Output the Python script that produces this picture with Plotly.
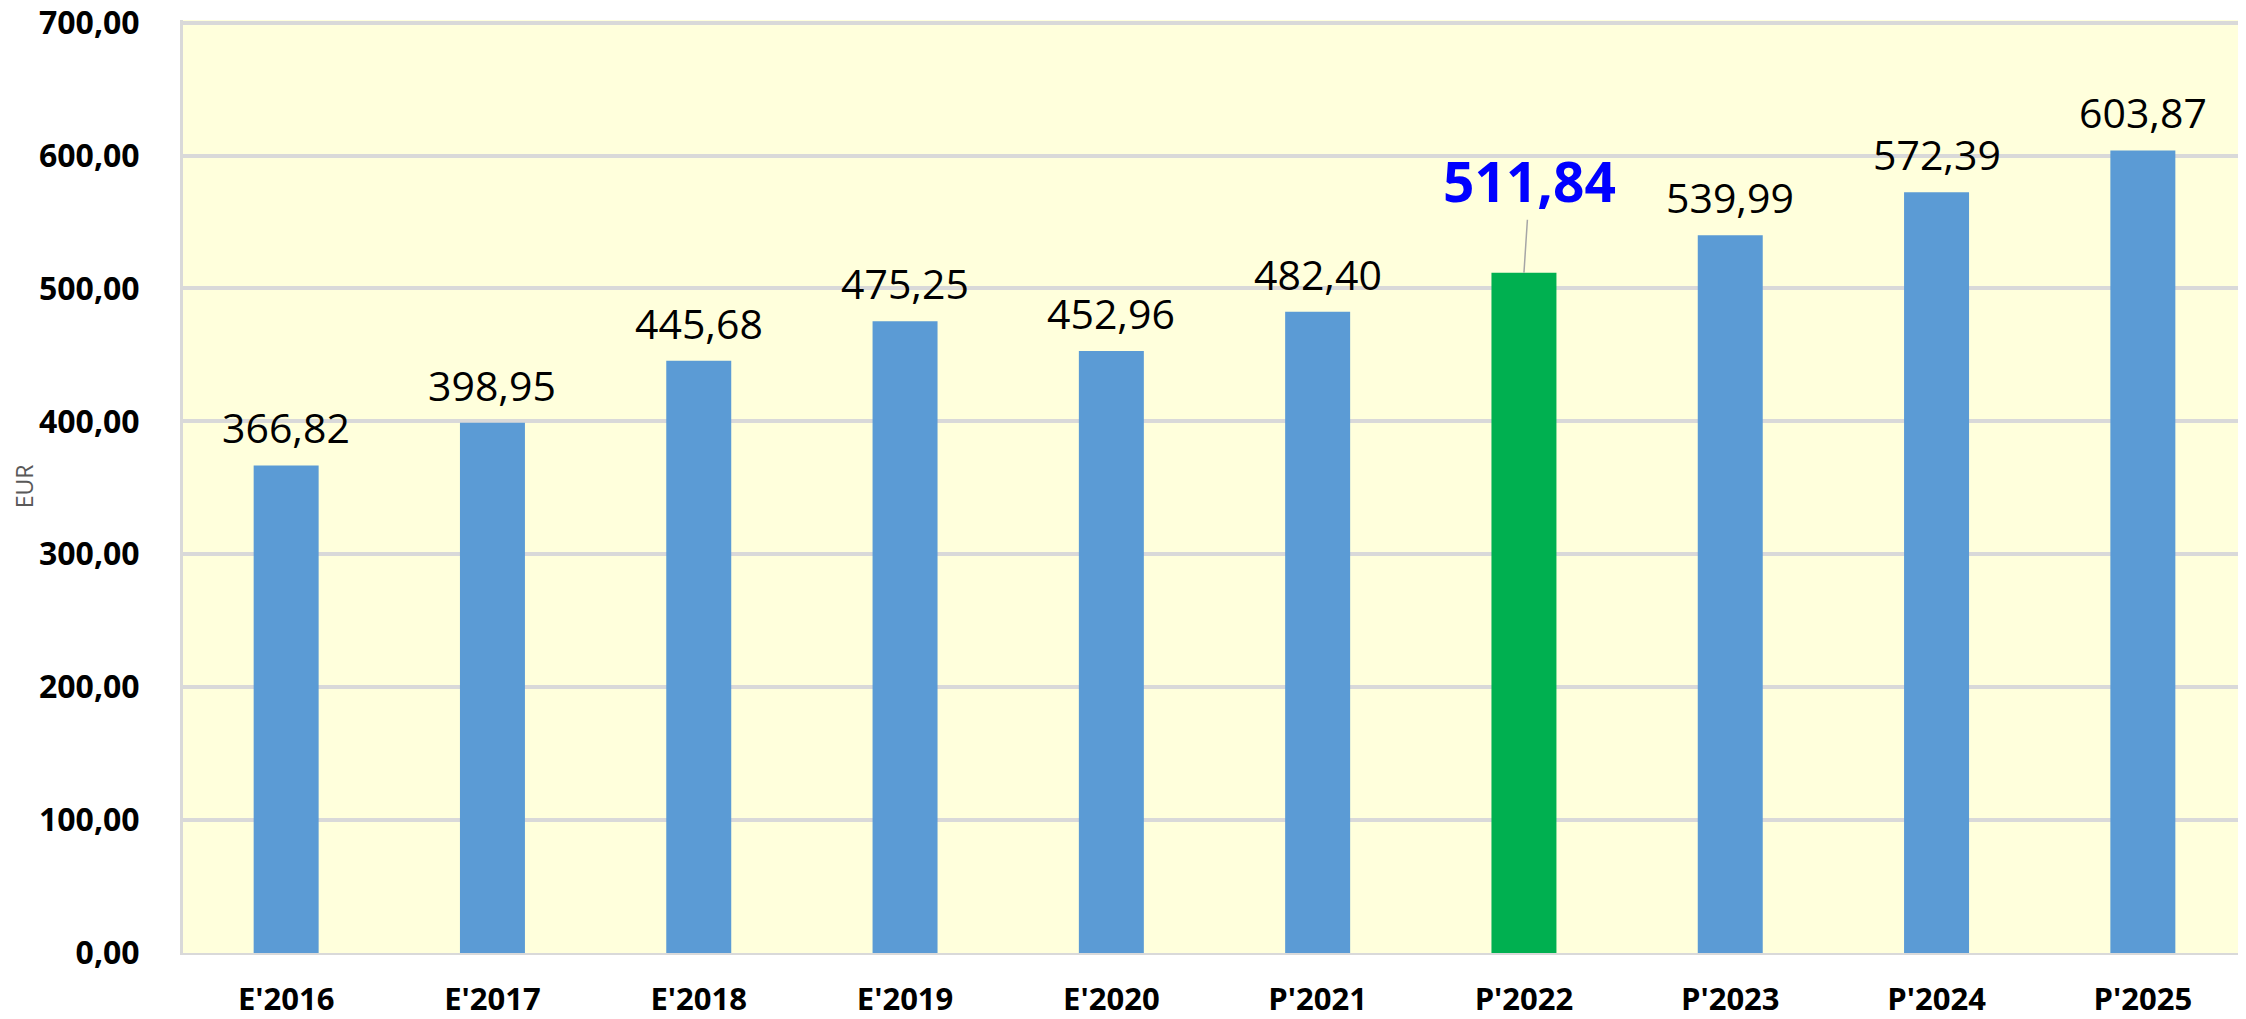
import plotly.graph_objects as go

categories = ["E'2016", "E'2017", "E'2018", "E'2019", "E'2020", "P'2021", "P'2022", "P'2023", "P'2024", "P'2025"]
values = [366.82, 398.95, 445.68, 475.25, 452.96, 482.40, 511.84, 539.99, 572.39, 603.87]
highlight = "P'2022"
y_ticks = [0, 100, 200, 300, 400, 500, 600, 700]

BLUE = "#5B9BD5"
GREEN = "#00B050"
FONT = "Open Sans"

def fmt(v):
    return f"{v:,.2f}".replace(",", " ").replace(".", ",")

colors = [GREEN if c == highlight else BLUE for c in categories]

fig = go.Figure()
fig.add_trace(go.Bar(x=categories, y=values, marker=dict(color=colors, line=dict(width=0)),
                     hoverinfo="x+y"))

for c, v in zip(categories, values):
    if c == highlight:
        fig.add_annotation(x=c, y=v, text="<b>" + fmt(v) + "</b>", showarrow=True,
                           arrowhead=0, arrowwidth=1.5, arrowcolor="#A6A6A6",
                           ax=6, ay=-92, standoff=0,
                           font=dict(family=FONT, size=55, color="#0000FF"))
    else:
        fig.add_annotation(x=c, y=v, text=fmt(v), showarrow=False,
                           yanchor="bottom", yshift=8,
                           font=dict(family=FONT, size=41, color="#000000"))

# page body has an 8px default margin, so the figure is sized/offset to compensate
fig.update_layout(
    width=2238, height=1011,
    margin=dict(l=175, r=0, t=12, b=66, autoexpand=False),
    paper_bgcolor="white",
    plot_bgcolor="#FFFFDC",
    bargap=0.685,
    showlegend=False,
    font=dict(family=FONT, color="#000000"),
)
fig.update_xaxes(
    showline=True, linecolor="#D9D9D9", linewidth=2,
    tickfont=dict(family=FONT, size=31, color="#000000", weight="bold"),
    ticks="", ticklabelstandoff=18, automargin=False, ticklabeloverflow="allow",
)
fig.update_yaxes(
    range=[0, 702], tickvals=y_ticks, ticktext=[fmt(t) for t in y_ticks],
    showgrid=True, gridcolor="#D9D9D9", gridwidth=4,
    zeroline=False, showline=True, linecolor="#D9D9D9", linewidth=3,
    tickfont=dict(family=FONT, size=32, color="#000000", weight="bold"),
    ticks="", ticklabelstandoff=34, automargin=False, ticklabeloverflow="allow",
    title=dict(text="EUR", font=dict(family=FONT, size=23, color="#595959"), standoff=7),
)

fig.write_html("out.html")
